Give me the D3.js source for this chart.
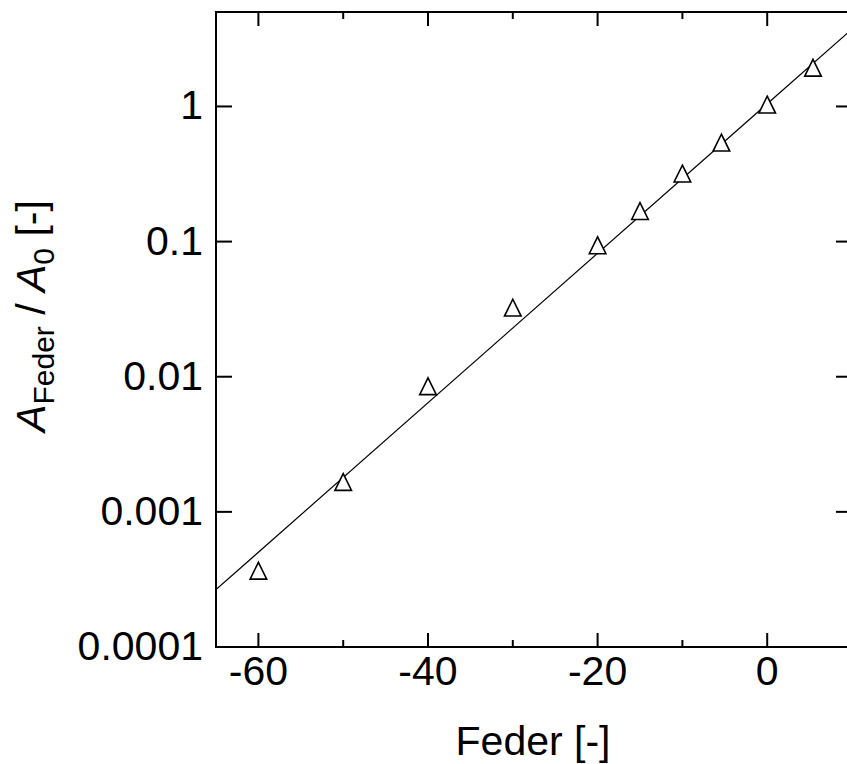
<!DOCTYPE html>
<html>
<head>
<meta charset="utf-8">
<script src="https://cdn.jsdelivr.net/npm/d3@7"></script>
<style>
  html, body { margin: 0; padding: 0; background: #fff; }
  svg { display: block; }
  text { font-family: "Liberation Sans", Arial, sans-serif; fill: #000; }
</style>
</head>
<body>
<svg id="chart" width="847" height="764"></svg>
<script>
// ---- data ----
const federX = [-60, -50, -40, -30, -20, -15, -10, -5.4, 0, 5.4];
const ratioY = [3.66e-4, 1.66e-3, 8.49e-3, 0.0324, 0.0937, 0.168, 0.318, 0.539, 1.03, 1.93];
const fitX = [-65, 10];
const fitY = [2.66e-4, 3.74];
const xMajorTicks = [-60, -40, -20, 0];
const xMinorTicks = [-50, -30, -10, 10];
const yTicks = [1e-4, 1e-3, 1e-2, 1e-1, 1];
const yTickLabels = ["0.0001", "0.001", "0.01", "0.1", "1"];

// ---- layout ----
const L = 216, R = 852, T = 12, B = 647;
const svg = d3.select("#chart");
svg.append("rect").attr("width", 847).attr("height", 764).attr("fill", "#fff");

const x = d3.scaleLinear().domain([-65, 10]).range([L, R]);
const y = d3.scaleLog().domain([1e-4, 5]).range([B, T]);

svg.append("defs").append("clipPath").attr("id", "clip")
  .append("rect").attr("x", L).attr("y", T).attr("width", R - L).attr("height", B - T);

// frame
svg.append("rect").attr("x", L).attr("y", T).attr("width", R - L).attr("height", B - T)
  .attr("fill", "none").attr("stroke", "#000").attr("stroke-width", 2);

// ---- ticks (inward, on all four sides) ----
const tickG = svg.append("g").attr("id", "ticks");
function addTick(x1, y1, x2, y2) {
  tickG.append("path").attr("d", `M${x1},${y1}L${x2},${y2}`)
    .attr("stroke", "#000").attr("stroke-width", 2).attr("fill", "none");
}
xMajorTicks.forEach(d => { addTick(x(d), B, x(d), B - 14); addTick(x(d), T, x(d), T + 14); });
xMinorTicks.forEach(d => { addTick(x(d), B, x(d), B - 7); addTick(x(d), T, x(d), T + 7); });
yTicks.forEach(d => { addTick(L, y(d), L + 16, y(d)); addTick(R, y(d), R - 16, y(d)); });

// tick labels
svg.append("g").selectAll("text").data(xMajorTicks).join("text")
  .attr("x", d => x(d)).attr("y", B + 38).attr("text-anchor", "middle")
  .attr("font-size", 41).text(d => String(d));
svg.append("g").selectAll("text").data(yTicks).join("text")
  .attr("x", L - 13).attr("y", d => y(d) + 13).attr("text-anchor", "end")
  .attr("font-size", 41).text((d, i) => yTickLabels[i]);

// ---- fit line ----
const fit = fitX.map((v, i) => [v, fitY[i]]);
svg.append("path").datum(fit)
  .attr("clip-path", "url(#clip)")
  .attr("fill", "none").attr("stroke", "#000").attr("stroke-width", 1.2)
  .attr("d", d3.line().x(d => x(d[0])).y(d => y(d[1])));

// ---- markers (open triangles) ----
const pts = federX.map((v, i) => [v, ratioY[i]]);
const tri = "M0,-8.5L8.3,8.3L-8.3,8.3Z";
svg.append("g").selectAll("path").data(pts).join("path")
  .attr("transform", d => `translate(${x(d[0])},${y(d[1])})`)
  .attr("d", tri).attr("fill", "#fff").attr("stroke", "#000").attr("stroke-width", 1.6);

// ---- axis titles ----
svg.append("text").attr("x", 533).attr("y", 755).attr("text-anchor", "middle")
  .attr("font-size", 41).text("Feder [-]");

const yt = svg.append("text").attr("transform", "translate(45,316) rotate(-90)")
  .attr("text-anchor", "middle").attr("font-size", 41);
yt.append("tspan").attr("font-style", "italic").text("A");
yt.append("tspan").attr("font-size", 30).attr("dy", 9).text("Feder");
yt.append("tspan").attr("dy", -9).text(" / ");
yt.append("tspan").attr("font-style", "italic").text("A");
yt.append("tspan").attr("font-size", 30).attr("dy", 9).text("0");
yt.append("tspan").attr("dy", -9).text(" [-]");
</script>
</body>
</html>
